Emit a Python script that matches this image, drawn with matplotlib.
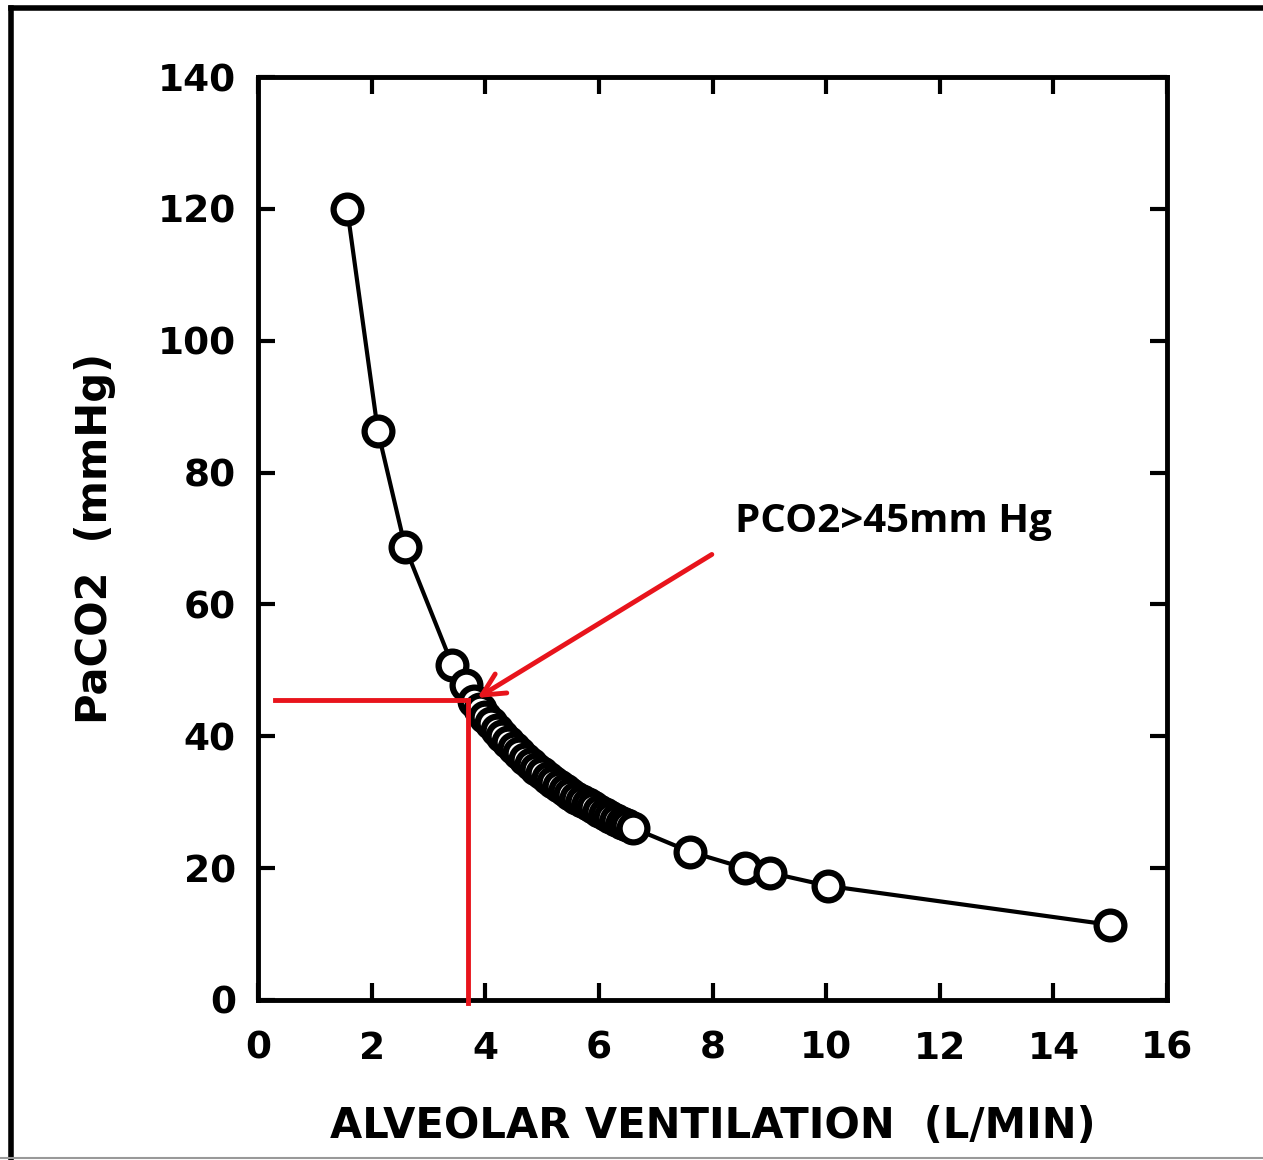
import matplotlib.pyplot as plt
from matplotlib.lines import Line2D

# data
vent = [1.57, 2.11, 2.59, 3.42, 3.66,
        3.8, 3.9, 4.0, 4.1, 4.2, 4.3, 4.4, 4.5, 4.6, 4.7, 4.8, 4.9, 5.0,
        5.1, 5.2, 5.3, 5.4, 5.5, 5.6, 5.7, 5.8, 5.9, 6.0, 6.1, 6.2, 6.3,
        6.4, 6.5, 6.6,
        7.6, 8.57, 9.01, 10.04, 15.0]
paco2 = [120.0, 86.3, 68.7, 50.8, 47.8,
         45.3, 44.2, 43.0, 42.0, 41.0, 40.0, 39.1, 38.2, 37.4, 36.6, 35.8, 35.1, 34.4,
         33.7, 33.1, 32.5, 31.9, 31.3, 30.7, 30.2, 29.7, 29.2, 28.7, 28.2, 27.7, 27.3,
         26.9, 26.5, 26.1,
         22.5, 20.0, 19.3, 17.3, 11.4]

xticks = [0, 2, 4, 6, 8, 10, 12, 14, 16]
xticklabels = ['0', '2', '4', '6', '8', '10', '12', '14', '16']
yticks = [0, 20, 40, 60, 80, 100, 120, 140]

thresh_x = 3.7
thresh_y = 45.5

fig = plt.figure(figsize=(12.63, 11.6), dpi=100)
ax = fig.add_axes([258/1263, 1 - 1000/1160, (1167-258)/1263, (1000-77)/1160])

ax.plot(vent, paco2, '-', color='black', lw=3,
        marker='o', ms=20, mfc='white', mec='black', mew=4.5, zorder=3)

ax.set_xlim(0, 16)
ax.set_ylim(0, 140)
ax.set_xticks(xticks)
ax.set_xticklabels(xticklabels)
ax.set_yticks(yticks)
ax.tick_params(direction='in', length=12, width=3, top=True, right=True,
               labelsize=27, pad=16)
ax.tick_params(axis='x', pad=22)
for lab in ax.get_xticklabels() + ax.get_yticklabels():
    lab.set_fontweight('bold')
for s in ax.spines.values():
    s.set_linewidth(3.5)

ax.set_xlabel('ALVEOLAR VENTILATION  (L/MIN)', fontsize=30, fontweight='bold', labelpad=28)
ax.set_ylabel('PaCO2  (mmHg)', fontsize=30, fontweight='bold', labelpad=30)

# red guide lines and arrow
ax.plot([0.3, thresh_x], [thresh_y, thresh_y], color='#e8141c', lw=3.5, zorder=4, clip_on=False)
ax.plot([thresh_x, thresh_x], [-0.5, thresh_y], color='#e8141c', lw=3.5, zorder=4, clip_on=False)
ax.annotate('', xy=(3.82, 45.6), xytext=(8.03, 67.8),
            arrowprops=dict(arrowstyle='->', color='#e8141c', lw=3.5,
                            mutation_scale=40), zorder=5)
ax.text(8.4, 71.0, 'PCO2>45mm Hg', fontsize=29, fontweight='bold',
        family=['Open Sans', 'DejaVu Sans'], va='baseline', ha='left')

# outer frame of the scan
fig.add_artist(Line2D([11/1263, 11/1263], [0, 1 - 8/1160], color='black', lw=4))
fig.add_artist(Line2D([11/1263, 1], [1 - 8/1160, 1 - 8/1160], color='black', lw=4))
fig.add_artist(Line2D([0, 1], [2/1160, 2/1160], color='#999999', lw=1.5))

fig.savefig('out.png', dpi=100)
